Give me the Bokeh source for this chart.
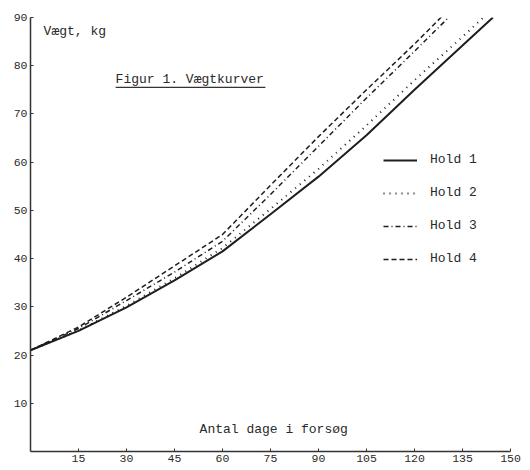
from bokeh.plotting import figure
from bokeh.models import FixedTicker, Label, Legend, LegendItem, Range1d
from bokeh.embed import file_html
from bokeh.resources import INLINE

# ---- data ----
days_1 = [0, 15, 30, 45, 60, 75, 90, 105, 120, 135, 144.5]
hold_1 = [21.0, 25.0, 29.9, 35.5, 41.5, 49.2, 57.0, 65.6, 75.0, 84.2, 90.0]
days_2 = [0, 15, 30, 45, 60, 75, 90, 105, 120, 135, 142]
hold_2 = [21.0, 25.1, 30.2, 35.9, 42.2, 50.3, 58.6, 67.6, 77.0, 86.0, 90.3]
days_3 = [0, 15, 30, 45, 60, 75, 90, 105, 120, 130.5]
hold_3 = [21.0, 25.5, 31.3, 37.2, 43.6, 53.3, 63.3, 73.3, 83.0, 89.9]
days_4 = [0, 15, 30, 45, 60, 75, 90, 105, 120, 129]
hold_4 = [21.0, 25.8, 32.0, 38.5, 45.0, 55.2, 65.3, 75.0, 84.5, 90.5]

x_ticks = [15, 30, 45, 60, 75, 90, 105, 120, 135, 150]
y_ticks = [10, 20, 30, 40, 50, 60, 70, 80, 90]
series_names = ["Hold 1", "Hold 2", "Hold 3", "Hold 4"]

FONT = "Liberation Mono"
INK = "#1e1e1e"

p = figure(width=530, height=470, output_backend="svg", toolbar_location=None,
           x_range=Range1d(0, 150), y_range=Range1d(0, 90),
           min_border_left=30, min_border_right=20, min_border_top=17,
           min_border_bottom=19)
p.outline_line_color = None
p.xgrid.visible = False
p.ygrid.visible = False
p.background_fill_color = "white"
p.border_fill_color = "white"

for ax in (p.xaxis[0], p.yaxis[0]):
    ax.axis_line_color = "#333333"
    ax.axis_line_width = 1.5
    ax.major_tick_in = 3
    ax.major_tick_out = 0
    ax.minor_tick_line_color = None
    ax.major_tick_line_color = "#333333"
    ax.major_label_text_font = FONT
    ax.major_label_text_font_size = "11.5px"
    ax.major_label_text_color = "#2a2a2a"
    ax.major_label_standoff = 3
p.xaxis[0].ticker = FixedTicker(ticks=x_ticks)
p.yaxis[0].ticker = FixedTicker(ticks=y_ticks)

r1 = p.line(days_1, hold_1, line_color=INK, line_width=2)
r2 = p.line(days_2, hold_2, line_color=INK, line_width=2, line_dash="1 5")
r3 = p.line(days_3, hold_3, line_color=INK, line_width=1.5, line_dash="5 3 1 3")
r4 = p.line(days_4, hold_4, line_color=INK, line_width=1.5, line_dash="5 3")

legend = Legend(items=[LegendItem(label=n, renderers=[r]) for n, r in
                       zip(series_names, [r1, r2, r3, r4])],
                location=(353, 185), orientation="vertical",
                glyph_width=34, glyph_height=10, label_height=10,
                label_standoff=13, spacing=18, padding=0, margin=0,
                border_line_color=None, background_fill_alpha=0,
                label_text_font=FONT, label_text_font_size="13px",
                label_text_color="#2a2a2a")
p.add_layout(legend, "center")

p.add_layout(Label(x=4.1, y=87.2, text="Vægt, kg", text_font=FONT,
                   text_font_size="13px", text_color="#2a2a2a",
                   text_baseline="middle", text_align="left"))
p.add_layout(Label(x=26.6, y=77.1, text="Figur 1. Vægtkurver", text_font=FONT,
                   text_font_size="13px", text_color="#2a2a2a",
                   text_baseline="middle", text_align="left"))
p.segment(x0=[26.6], y0=[75.5], x1=[73.4], y1=[75.5], line_color="#333333",
          line_width=1.2)
p.add_layout(Label(x=76.0, y=4.6, text="Antal dage i forsøg", text_font=FONT,
                   text_font_size="13px", text_color="#2a2a2a",
                   text_baseline="middle", text_align="center"))

open("out.html", "w").write(file_html(p, INLINE))
